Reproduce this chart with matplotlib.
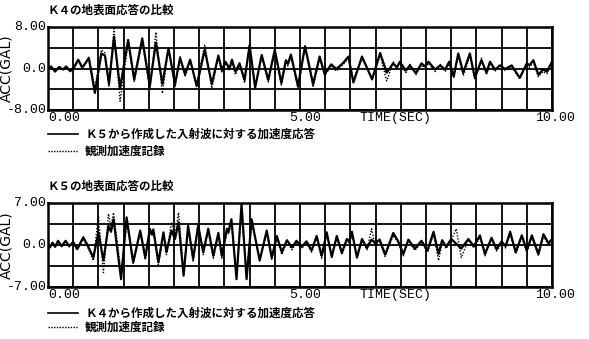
import matplotlib
matplotlib.use("Agg")
import matplotlib.pyplot as plt

# K4 の地表面応答 (上段)  時刻 [s] と 加速度 [gal]
t_k4 = [0.00, 0.06, 0.14, 0.22, 0.30, 0.36, 0.44, 0.52, 0.60, 0.68, 0.74, 0.81, 0.93, 1.06, 1.13, 1.21,
        1.31, 1.43, 1.59, 1.71, 1.87, 2.02, 2.14, 2.27, 2.39, 2.52, 2.62, 2.72, 2.82, 2.95, 3.11, 3.25,
        3.38, 3.45, 3.52, 3.60, 3.65, 3.72, 3.80, 3.90, 4.00, 4.11, 4.24, 4.37, 4.50, 4.63, 4.72, 4.76,
        4.82, 4.96, 5.10, 5.26, 5.39, 5.49, 5.62, 5.72, 5.86, 5.96, 6.06, 6.23, 6.43, 6.59, 6.72, 6.85,
        6.92, 6.98, 7.10, 7.18, 7.30, 7.41, 7.48, 7.55, 7.68, 7.78, 7.88, 7.96, 8.05, 8.14, 8.24, 8.37,
        8.47, 8.60, 8.70, 8.77, 8.87, 8.97, 9.07, 9.20, 9.36, 9.50, 9.55, 9.63, 9.73, 9.82, 9.90, 10.00]
k4_calc = [0.0, 0.4, -0.6, 0.3, -0.2, 0.4, -0.5, 0.3, 1.7, 0.2, 1.0, 2.0, -4.7, 2.9, 2.5, -3.0,
           6.1, -3.8, 5.5, -2.1, 5.8, -3.4, 5.0, -3.0, 3.9, -3.0, 2.0, -1.1, 1.7, -3.4, 3.6, -3.0,
           2.5, -0.3, 1.3, 0.0, 1.7, -0.6, 1.0, -2.2, 4.5, -3.7, 2.6, -2.2, 3.6, -2.8, 1.6, 0.9,
           2.7, -3.4, 4.3, -3.0, 2.3, -1.1, 0.8, -0.1, 1.1, 2.3, -2.7, 2.3, -2.1, 3.0, -0.8, 1.0,
           0.2, 1.3, -0.4, 0.6, -0.9, 1.0, 0.4, 1.3, -0.2, 0.6, -0.2, 1.3, -1.5, 2.9, -0.8, 2.9,
           -1.8, 1.6, -0.8, 1.3, -0.2, 0.6, -0.1, 0.6, -1.8, 1.0, 0.6, 1.6, -1.2, -0.2, -0.6, 1.3]
k4_obs = [0.0, 0.3, -0.5, 0.3, -0.3, 0.3, -0.6, 0.2, 1.4, 0.0, 0.8, 2.3, -3.8, 3.6, 3.0, -3.4,
          7.7, -6.3, 5.0, -2.6, 5.2, -4.0, 7.0, -4.8, 4.0, -3.6, 2.3, -1.6, 1.5, -3.0, 4.6, -3.8,
          2.2, -0.8, 1.0, -0.4, 1.2, -1.2, 0.8, -2.8, 4.2, -3.4, 2.3, -2.6, 3.2, -3.2, 1.2, 0.5,
          2.3, -3.8, 4.0, -3.6, 2.0, -1.4, 0.5, -0.5, 0.8, 2.0, -2.2, 2.0, -1.8, 2.6, -2.4, 1.3,
          0.0, 1.0, -0.8, 0.8, -1.2, 0.6, 0.2, 1.0, -0.6, 0.8, -0.6, 1.0, -1.8, 2.4, -1.4, 2.4,
          -2.2, 2.0, -1.2, 1.0, -0.6, 0.8, -0.4, 0.3, -2.0, 0.8, 0.2, 1.2, -1.6, -0.6, -1.0, 1.0]

# K5 の地表面応答 (下段)
t_k5 = [0.00, 0.04, 0.09, 0.14, 0.20, 0.27, 0.35, 0.42, 0.50, 0.58, 0.70, 0.80, 0.90, 1.00, 1.10, 1.20,
        1.25, 1.30, 1.45, 1.56, 1.69, 1.83, 1.93, 2.02, 2.06, 2.09, 2.19, 2.29, 2.35, 2.45, 2.52, 2.59,
        2.69, 2.78, 2.88, 2.98, 3.08, 3.18, 3.28, 3.38, 3.45, 3.55, 3.58, 3.64, 3.74, 3.84, 3.94, 4.04,
        4.20, 4.34, 4.44, 4.54, 4.64, 4.74, 4.84, 4.93, 5.03, 5.13, 5.23, 5.33, 5.43, 5.53, 5.63, 5.73,
        5.83, 5.93, 5.98, 6.03, 6.13, 6.23, 6.33, 6.42, 6.49, 6.58, 6.69, 6.85, 6.95, 7.05, 7.15, 7.28,
        7.41, 7.53, 7.65, 7.75, 7.82, 7.90, 8.00, 8.10, 8.20, 8.34, 8.45, 8.57, 8.67, 8.80, 8.90, 9.00,
        9.08, 9.17, 9.28, 9.40, 9.50, 9.60, 9.73, 9.83, 9.93, 10.00]
k5_calc = [0.0, -0.4, 0.4, -0.3, 0.7, -0.2, 0.7, -0.2, 0.5, -0.7, 1.3, -0.3, -2.1, 2.1, -2.6, 3.2,
           2.2, 4.3, -5.7, 4.6, -2.9, 2.4, -2.1, 2.7, 1.8, 2.6, -2.9, 2.1, -1.2, 2.4, 1.0, 3.8,
           -5.1, 3.2, -2.3, 3.2, -1.2, 2.7, -1.8, 2.0, -1.8, 2.7, 2.2, 4.3, -5.7, 6.8, -5.7, 4.3,
           -2.6, 2.4, -2.1, 1.5, -1.2, 0.8, -0.4, 0.7, -0.3, 0.6, -0.9, 1.5, -1.8, 2.1, -2.0, 1.5,
           -1.3, 1.0, 0.6, 2.2, -2.1, 1.0, -0.5, 0.9, 0.3, 0.9, -1.6, 2.0, 0.6, -1.5, 0.9, -0.6,
           0.7, -0.9, 2.2, -1.5, 0.8, -0.3, 1.0, 0.2, -0.6, 1.0, -0.2, 1.6, -1.5, 1.2, -0.7, 0.6,
           -0.2, 2.2, -1.2, 1.6, -0.9, 1.6, -1.5, 1.8, 0.3, 1.0]
k5_obs = [0.0, -0.3, 0.3, -0.4, 0.5, -0.3, 0.6, -0.3, 0.4, -0.8, 1.0, -0.6, -2.6, 4.9, -4.6, 5.2,
          3.0, 5.4, -4.6, 4.0, -3.2, 2.1, -2.5, 2.3, 1.5, 2.2, -3.3, 1.8, -1.6, 3.8, 1.6, 5.4,
          -4.4, 2.8, -2.8, 3.8, -1.6, 2.3, -2.2, 1.6, -2.2, 2.3, 1.8, 3.6, -4.8, 5.6, -4.8, 3.6,
          -2.2, 2.0, -2.5, 1.2, -1.6, 0.5, -0.8, 0.4, -0.6, 0.3, -1.2, 1.2, -2.2, 1.8, -1.6, 1.2,
          -1.6, 0.7, 0.3, 1.8, -1.7, 0.7, -0.8, 2.7, 0.0, 0.5, -1.9, 1.6, 0.3, -1.8, 0.6, -0.9,
          0.4, -1.2, 1.8, -2.6, 0.5, -0.6, 0.8, 2.7, -2.1, 0.8, -0.5, 1.3, -1.8, 1.0, -1.0, 0.3,
          -0.5, 1.8, -1.5, 1.3, -1.2, 1.3, -1.8, 1.5, 0.0, 0.8]

titles = ["Ｋ４の地表面応答の比較", "Ｋ５の地表面応答の比較"]
legend_calc = ["Ｋ５から作成した入射波に対する加速度応答", "Ｋ４から作成した入射波に対する加速度応答"]
legend_obs = "観測加速度記録"
ymax = [8.0, 7.0]
ylab_top = ["8.00", "7.00"]
ylab_bot = ["-8.00", "-7.00"]

W, H = 589, 339
jp = ['Noto Sans CJK JP', 'DejaVu Sans']
mono = 'Liberation Mono'

fig = plt.figure(figsize=(W / 100, H / 100), dpi=100)
fig.patch.set_facecolor('white')

# 各段の配置 (ピクセル) : 軸の上端, 下端, タイトル, 凡例
panels = [dict(top=27, bot=110, title=10, leg1=134, leg2=151, t=t_k4, calc=k4_calc, obs=k4_obs),
          dict(top=203, bot=287, title=186, leg1=313, leg2=327, t=t_k5, calc=k5_calc, obs=k5_obs)]

x0, x1 = 48, 552
for i, p in enumerate(panels):
    ax = fig.add_axes([x0 / W, 1 - p['bot'] / H, (x1 - x0) / W, (p['bot'] - p['top']) / H])
    m = ymax[i]
    ax.set_xlim(0, 10)
    ax.set_ylim(-m, m)
    ax.set_xticks([k * 0.5 for k in range(21)])
    ax.set_yticks([-m, -m / 2, 0, m / 2, m])
    ax.grid(True, color='black', lw=1.3)
    ax.tick_params(length=0, labelbottom=False, labelleft=False)
    for s in ax.spines.values():
        s.set_linewidth(1.8)
    ax.plot(p['t'], p['obs'], color='black', lw=1.0, ls=(0, (1, 1.2)), zorder=3)
    ax.plot(p['t'], p['calc'], color='black', lw=1.6, zorder=4)

    # 軸目盛の文字
    ty = ax.get_yaxis_transform()
    ax.text(-0.003, m, ylab_top[i], transform=ty, ha='right', va='center', family=mono, fontsize=9.5)
    ax.text(-0.003, 0, "0.0", transform=ty, ha='right', va='center', family=mono, fontsize=9.5)
    ax.text(-0.003, -m, ylab_bot[i], transform=ty, ha='right', va='center', family=mono, fontsize=9.5)
    tx = ax.get_xaxis_transform()
    ax.text(0.0, -0.1, "0.00", transform=tx, ha='left', va='center', family=mono, fontsize=9.5)
    ax.text(5.1, -0.1, "5.00", transform=tx, ha='center', va='center', family=mono, fontsize=9.5)
    ax.text(6.9, -0.1, "TIME(SEC)", transform=tx, ha='center', va='center', family=mono, fontsize=9.5)
    ax.text(10.05, -0.1, "10.00", transform=tx, ha='center', va='center', family=mono, fontsize=9.5)
    ax.set_ylabel("ACC(GAL)", fontsize=10)
    ax.yaxis.set_label_coords((13 - x0) / (x1 - x0), 0.5)

    fig.text(48 / W, 1 - p['title'] / H, titles[i], family=jp, fontsize=8.3,
             fontweight='bold', ha='left', va='center')
    fig.lines.append(plt.Line2D([48 / W, 78 / W], [1 - p['leg1'] / H] * 2,
                                transform=fig.transFigure, color='black', lw=1.2))
    fig.lines.append(plt.Line2D([48 / W, 78 / W], [1 - p['leg2'] / H] * 2,
                                transform=fig.transFigure, color='black', lw=1.0, ls=(0, (1, 1))))
    fig.text(85 / W, 1 - p['leg1'] / H, legend_calc[i], family=jp, fontsize=8.3,
             fontweight='bold', ha='left', va='center')
    fig.text(85 / W, 1 - p['leg2'] / H, legend_obs, family=jp, fontsize=8.3,
             fontweight='bold', ha='left', va='center')

fig.savefig("out.png", dpi=100)
